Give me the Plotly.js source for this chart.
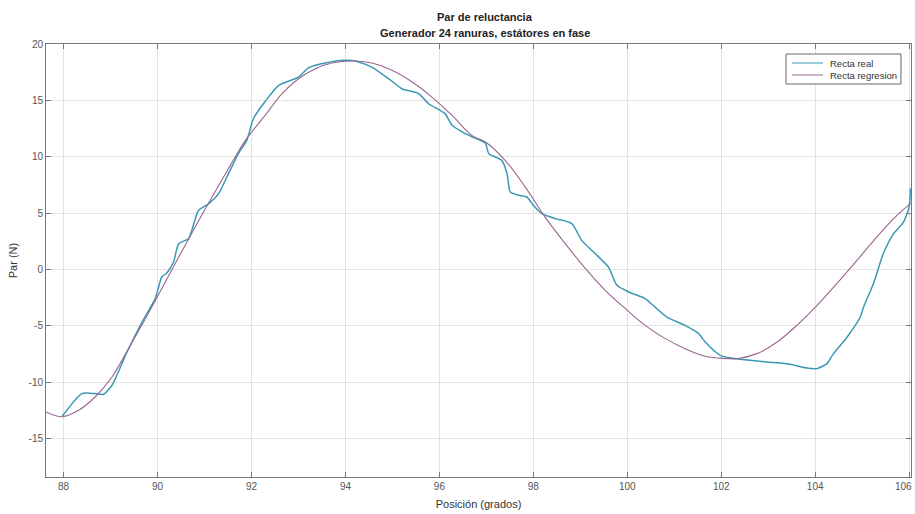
<!DOCTYPE html>
<html>
<head>
<meta charset="utf-8">
<script src="https://cdn.plot.ly/plotly-3.0.1.min.js"></script>
<style>html,body{margin:0;padding:0;background:#fff;}#chart{width:915px;height:514px;}</style>
</head>
<body>
<div id="chart"></div>
<script>
// Recta real (measured torque)
const realX = [87.97, 88.39, 88.67, 88.85, 89.03, 89.35, 89.67, 89.95, 90.09, 90.20, 90.34, 90.45, 90.66, 90.73, 90.87, 91.09, 91.30, 91.51, 91.72, 91.90, 92.04, 92.29, 92.58, 93.00, 93.22, 93.57, 93.99, 94.21, 94.56, 94.92, 95.20, 95.56, 95.77, 96.12, 96.27, 96.55, 96.98, 97.05, 97.33, 97.44, 97.51, 97.69, 97.86, 98.00, 98.18, 98.47, 98.82, 99.03, 99.32, 99.60, 99.78, 100.03, 100.38, 100.59, 100.84, 101.23, 101.52, 101.66, 101.98, 102.33, 102.97, 103.47, 103.82, 104.04, 104.25, 104.39, 104.68, 104.96, 105.03, 105.24, 105.45, 105.67, 105.88, 106.00, 106.03];
const realY = [-13.04, -11.03, -11.03, -11.09, -10.29, -7.34, -4.68, -2.60, -0.68, -0.30, 0.65, 2.28, 2.72, 3.46, 5.23, 5.83, 6.72, 8.49, 10.27, 11.45, 13.37, 14.90, 16.33, 17.06, 17.90, 18.31, 18.55, 18.49, 17.95, 16.92, 16.03, 15.59, 14.70, 13.82, 12.78, 12.04, 11.20, 10.27, 9.67, 8.49, 6.86, 6.57, 6.42, 5.68, 4.94, 4.50, 4.06, 2.57, 1.39, 0.20, -1.42, -2.01, -2.60, -3.35, -4.23, -4.97, -5.71, -6.45, -7.63, -7.93, -8.22, -8.43, -8.76, -8.81, -8.37, -7.48, -6.00, -4.23, -3.35, -1.27, 1.39, 3.17, 4.20, 5.53, 7.20];

// Recta regresion (fitted curve)
const regX = [87.625, 87.97, 88.32, 88.67, 89.03, 89.38, 89.74, 90.09, 90.45, 90.80, 91.16, 91.51, 91.87, 92.29, 92.65, 93.00, 93.36, 93.71, 94.14, 94.56, 94.99, 95.42, 95.84, 96.27, 96.69, 96.98, 97.40, 97.83, 98.25, 98.68, 99.11, 99.53, 99.96, 100.38, 100.81, 101.23, 101.66, 101.98, 102.33, 102.76, 103.19, 103.61, 104.04, 104.46, 104.89, 105.31, 105.74, 106.03];
const regY = [-12.66, -13.08, -12.51, -11.33, -9.55, -7.04, -4.38, -1.71, 1.09, 3.75, 6.42, 8.94, 11.45, 13.66, 15.59, 16.92, 17.81, 18.31, 18.49, 18.31, 17.66, 16.62, 15.29, 13.66, 11.89, 11.30, 9.67, 7.30, 4.64, 2.28, 0.06, -1.86, -3.49, -4.97, -6.15, -7.04, -7.72, -7.88, -7.93, -7.48, -6.45, -4.97, -3.19, -1.27, 0.80, 2.87, 4.79, 5.83];

const xTicks = [88, 90, 92, 94, 96, 98, 100, 102, 104, 106];
const yTicks = [-15, -10, -5, 0, 5, 10, 15, 20];
const lastXTick = xTicks[xTicks.length - 1];

const titleLines = ['Par de reluctancia', 'Generador 24 ranuras, estátores en fase'];
const xTitle = 'Posición (grados)';
const yTitle = 'Par (N)';
const seriesNames = ['Recta real', 'Recta regresion'];
const seriesColors = ['#3b98b4', '#9a6593'];

const FONT = 'Liberation Sans, Arial, Helvetica, sans-serif';
const axisCol = '#777777';

const traces = [
  {x: realX, y: realY, name: seriesNames[0], type: 'scatter', mode: 'lines',
   line: {color: seriesColors[0], width: 1.5, shape: 'spline', smoothing: 0.6}},
  {x: regX, y: regY, name: seriesNames[1], type: 'scatter', mode: 'lines',
   line: {color: seriesColors[1], width: 1.1, shape: 'spline', smoothing: 1}}
];

// Legend box drawn in paper coordinates
const legBox = {x0: 0.8555, x1: 0.9884, y0: 0.9076, y1: 0.9769};
const legRows = [0.9561, 0.9284];
const legLineX = [0.8624, 0.8983];
const legTextX = 0.904;

const shapes = [
  {type: 'rect', xref: 'paper', yref: 'paper', x0: legBox.x0, x1: legBox.x1, y0: legBox.y0, y1: legBox.y1,
   line: {color: '#666666', width: 1}, fillcolor: '#ffffff', layer: 'above'}
];
const annotations = [
  {text: '<b>' + titleLines[0] + '</b>', xref: 'paper', yref: 'paper', x: 0.507, y: 1.0624,
   xanchor: 'center', yanchor: 'middle', showarrow: false, font: {family: FONT, size: 11, color: '#222222'}},
  {text: '<b>' + titleLines[1] + '</b>', xref: 'paper', yref: 'paper', x: 0.507, y: 1.0254,
   xanchor: 'center', yanchor: 'middle', showarrow: false, font: {family: FONT, size: 11, color: '#222222'}},
  // last x tick label, kept right-aligned so it stays inside the page
  {text: String(lastXTick), xref: 'paper', yref: 'paper', x: 1.0035, y: -0.0208,
   xanchor: 'right', yanchor: 'middle', showarrow: false, font: {family: FONT, size: 10, color: '#555555'}}
];
seriesNames.forEach((n, i) => {
  shapes.push({type: 'line', xref: 'paper', yref: 'paper', x0: legLineX[0], x1: legLineX[1],
    y0: legRows[i], y1: legRows[i], line: {color: seriesColors[i], width: 1.1}, layer: 'above'});
  annotations.push({text: n, xref: 'paper', yref: 'paper', x: legTextX, y: legRows[i],
    xanchor: 'left', yanchor: 'middle', showarrow: false, font: {family: FONT, size: 9.5, color: '#333333'}});
});

const layout = {
  width: 915, height: 514,
  margin: {l: 46, r: 4, t: 44, b: 37},
  paper_bgcolor: '#ffffff', plot_bgcolor: '#ffffff',
  font: {family: FONT, size: 10, color: '#444444'},
  showlegend: false,
  shapes: shapes,
  annotations: annotations,
  xaxis: {
    range: [87.625, 106.04], tickvals: xTicks,
    ticktext: xTicks.map(v => v === lastXTick ? '' : String(v)),
    showgrid: true, gridcolor: '#e3e3e3', gridwidth: 1, zeroline: false,
    showline: true, linecolor: axisCol, linewidth: 1, mirror: 'ticks',
    ticks: 'inside', ticklen: 5, tickcolor: axisCol, tickwidth: 1,
    tickfont: {family: FONT, size: 10, color: '#555555'},
    title: {text: xTitle, font: {family: FONT, size: 11, color: '#333333'}, standoff: 9}
  },
  yaxis: {
    range: [-18.43, 20], tickvals: yTicks, ticktext: yTicks.map(String),
    showgrid: true, gridcolor: '#e3e3e3', gridwidth: 1, zeroline: false,
    showline: true, linecolor: axisCol, linewidth: 1, mirror: 'ticks',
    ticks: 'inside', ticklen: 5, tickcolor: axisCol, tickwidth: 1,
    tickfont: {family: FONT, size: 10, color: '#555555'},
    title: {text: yTitle, font: {family: FONT, size: 11, color: '#333333'}, standoff: 8}
  }
};

Plotly.newPlot('chart', traces, layout, {displayModeBar: false, staticPlot: true});
</script>
</body>
</html>
